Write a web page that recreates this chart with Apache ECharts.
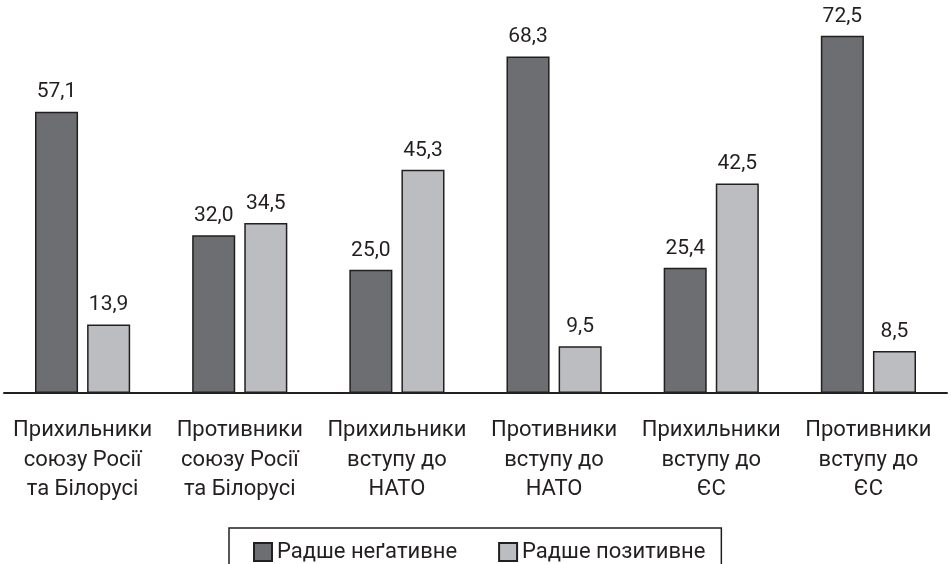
<!DOCTYPE html>
<html><head><meta charset="utf-8">
<script src="https://cdn.jsdelivr.net/npm/echarts@6/dist/echarts.min.js"></script>
<style>html,body{margin:0;padding:0;background:#fff}#c{width:951px;height:564px}</style>
</head><body><div id="c"></div>
<script>
const categories = [
  "Прихильники\nсоюзу Росії\nта Білорусі",
  "Противники\nсоюзу Росії\nта Білорусі",
  "Прихильники\nвступу до\nНАТО",
  "Противники\nвступу до\nНАТО",
  "Прихильники\nвступу до\nЄС",
  "Противники\nвступу до\nЄС"
];
const seriesNames = ["Радше неґативне", "Радше позитивне"];
const negative = [57.1, 32.0, 25.0, 68.3, 25.4, 72.5];
const positive = [13.9, 34.5, 45.3, 9.5, 42.5, 8.5];

const ink = "#231f20";
const font = "Roboto";
const fmt = p => p.value.toFixed(1).replace(".", ",");
const chart = echarts.init(document.getElementById("c"), null, {renderer: "canvas"});
chart.setOption({
  animation: false,
  backgroundColor: "#fff",
  grid: {left: 4, right: 4, top: 23.5, bottom: 171, containLabel: false},
  legend: {
    left: 229, top: 528,
    padding: [13, 16, 20, 24],
    itemGap: 41, itemWidth: 18, itemHeight: 18,
    borderColor: ink, borderWidth: 1.5, borderRadius: 0,
    icon: "rect",
    textStyle: {fontFamily: font, fontSize: 22, color: ink, padding: [0, 0, 0, 0]},
    data: seriesNames
  },
  xAxis: {
    type: "category", data: categories,
    axisLine: {lineStyle: {color: ink, width: 2}},
    axisTick: {length: 7, lineStyle: {color: ink, width: 2}},
    axisLabel: {fontFamily: font, fontSize: 22, lineHeight: 29.5, color: ink, margin: 23, interval: 0}
  },
  yAxis: {type: "value", min: 0, max: 75, show: false, splitLine: {show: false}},
  series: [
    {name: seriesNames[0], type: "bar", data: negative, barWidth: "27.4%", barGap: "21%",
     itemStyle: {color: "#6d6e71", borderColor: ink, borderWidth: 1.5},
     label: {show: true, position: "top", distance: 9, formatter: fmt, fontFamily: font, fontSize: 21, color: ink}},
    {name: seriesNames[1], type: "bar", data: positive, barWidth: "27.4%",
     itemStyle: {color: "#bcbdc0", borderColor: ink, borderWidth: 1.5},
     label: {show: true, position: "top", distance: 9, formatter: fmt, fontFamily: font, fontSize: 21, color: ink}}
  ]
});
</script></body></html>
